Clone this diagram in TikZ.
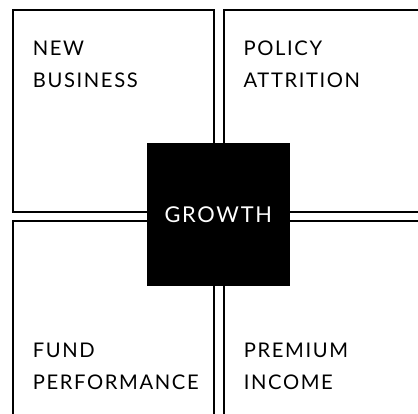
\documentclass[tikz,border=0pt]{standalone}
\usepackage{fontspec}
\setmainfont{Lato}[LetterSpace=8]
\usetikzlibrary{positioning}

\begin{document}
\begin{tikzpicture}[x=1pt, y=-1pt, line width=1.8pt]
	\tikzstyle{quad} = [draw, rectangle, anchor=north west, inner sep=0pt, minimum width=201pt, minimum height=202pt]
	\tikzstyle{qtext} = [anchor=base west, align=left, inner sep=0pt, font=\fontsize{20.2}{32}\selectfont]
	\tikzstyle{hub} = [fill=black, text=white, minimum width=143pt, minimum height=143pt, inner sep=0pt, font=\fontsize{21.8}{24}\selectfont]

	\useasboundingbox (0,0) rectangle (418,414);
	\clip (0,0) rectangle (418,414);

	% four quadrants
	\node[quad] (nb) at (11.7,9) {};
	\node[quad, minimum width=220pt] (pa) at (222.7,9) {};
	\node[quad, minimum height=220pt] (fp) at (11.7,220) {};
	\node[quad, minimum width=220pt, minimum height=220pt] (pi) at (222.7,220) {};

	\node[qtext] (nbt) at (32,87.7) {NEW\\BUSINESS};
	\node[qtext] (pat) at (242.7,87.7) {POLICY\\ATTRITION};
	\node[qtext] (fpt) at (32,389) {FUND\\PERFORMANCE};
	\node[qtext] (pit) at (243,389) {PREMIUM\\INCOME};

	% centre
	\node[hub] (growth) at (218.3,214.7) {GROWTH};
\end{tikzpicture}
\end{document}
